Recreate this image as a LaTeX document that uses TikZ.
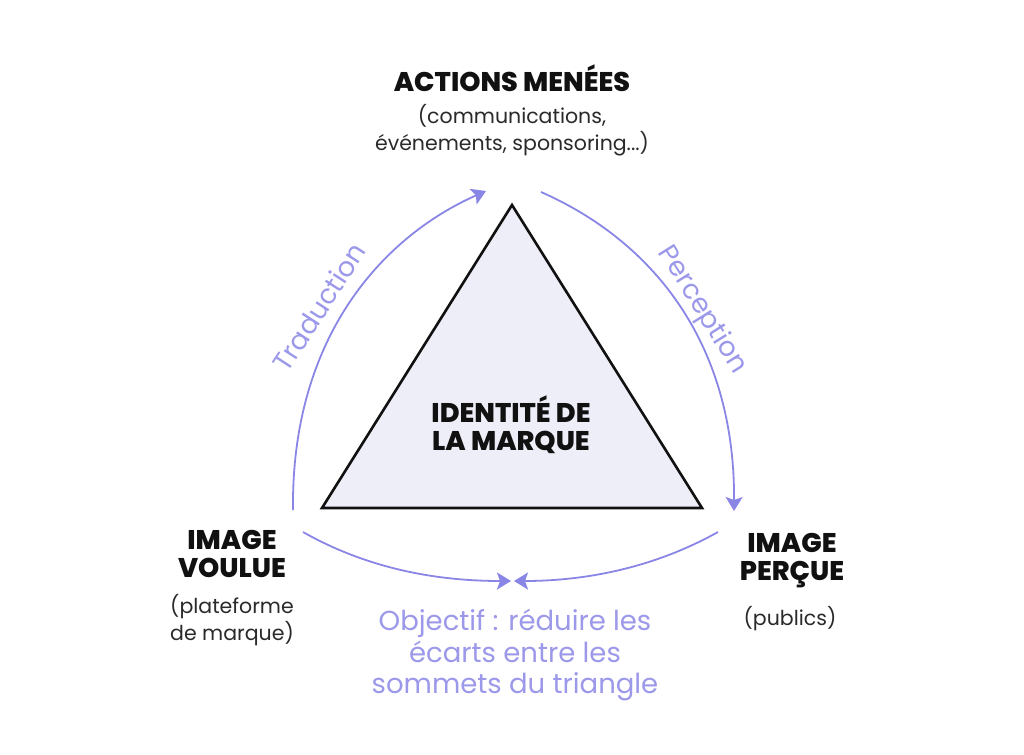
\documentclass[tikz,border=0pt]{standalone}
\usepackage{fontspec}
\setmainfont{Poppins}
\IfFontExistsTF{Poppins ExtraBold}{\newfontfamily\heavyfont{Poppins ExtraBold}}{\newfontfamily\heavyfont{Poppins}[UprightFont=*-Bold]}
\usetikzlibrary{arrows.meta}
\definecolor{arc}{HTML}{8A86E6}
\definecolor{lav}{HTML}{9C98EA}
\definecolor{trifill}{HTML}{EEEEF8}
\definecolor{ink}{HTML}{111111}
\definecolor{sub}{HTML}{2A2A2A}
\tikzset{
  head/.style={font=\fontsize{27}{28}\heavyfont, text=ink, align=center, inner sep=0pt},
  subt/.style={font=\fontsize{20.5}{27}\selectfont, text=sub, align=center, inner sep=0pt},
  arclabel/.style={font=\fontsize{27}{28}\selectfont, text=lav, inner sep=0pt},
  arcline/.style={draw=arc, line width=1.8pt, -{Stealth[length=14pt,width=17pt,inset=3pt]}},
}
\begin{document}
\begin{tikzpicture}[x=1pt,y=-1pt]
\useasboundingbox (0,0) rectangle (1024,754);
\fill[white] (0,0) rectangle (1024,754);
% triangle
\coordinate (T) at (512,205);
\coordinate (L) at (322,508);
\coordinate (R) at (702,508);
\draw[fill=trifill, draw=ink, line width=2.6pt, line join=miter] (T) -- (L) -- (R) -- cycle;
\node[head] (id) at (511,425) {IDENTITÉ DE\\LA MARQUE};
% top
\node[head] (top) at (512,78) {ACTIONS MENÉES};
\node[subt] (topsub) at (512,130) {(communications,\\événements, sponsoring...)};
% left
\node[head] (left) at (232,554) {IMAGE\\VOULUE};
\node[subt] (leftsub) at (232,620) {(plateforme\\de marque)};
% right
\node[head] (right) at (792,561) {IMAGE\\PERÇUE};
\node[subt] (rightsub) at (790,619) {(publics)};
% bottom objective
\node[font=\fontsize{27.5}{31.5}\selectfont, text=lav, align=center, inner sep=0pt] (obj) at (515,655) {Objectif : réduire les\\écarts entre les\\sommets du triangle};
% arc end points
\coordinate (a1) at (293,510);
\coordinate (a2) at (486,191);
\coordinate (b1) at (541,192);
\coordinate (b2) at (734,511);
\coordinate (c1) at (303,532);
\coordinate (c2) at (511,581);
\coordinate (d1) at (718,532);
\coordinate (d2) at (514,581);
\draw[arcline] (a1) .. controls (291,340) and (380,238) .. (a2);
\draw[arcline] (b1) .. controls (650,240) and (735,340) .. (b2);
\draw[arcline] (c1) .. controls (370,570) and (440,581) .. (c2);
\draw[arcline] (d1) .. controls (650,570) and (580,581) .. (d2);
\node[arclabel, rotate=57] (trad) at (319,307) {Traduction};
\node[arclabel, rotate=-58] (perc) at (702,310) {Perception};
\end{tikzpicture}
\end{document}
